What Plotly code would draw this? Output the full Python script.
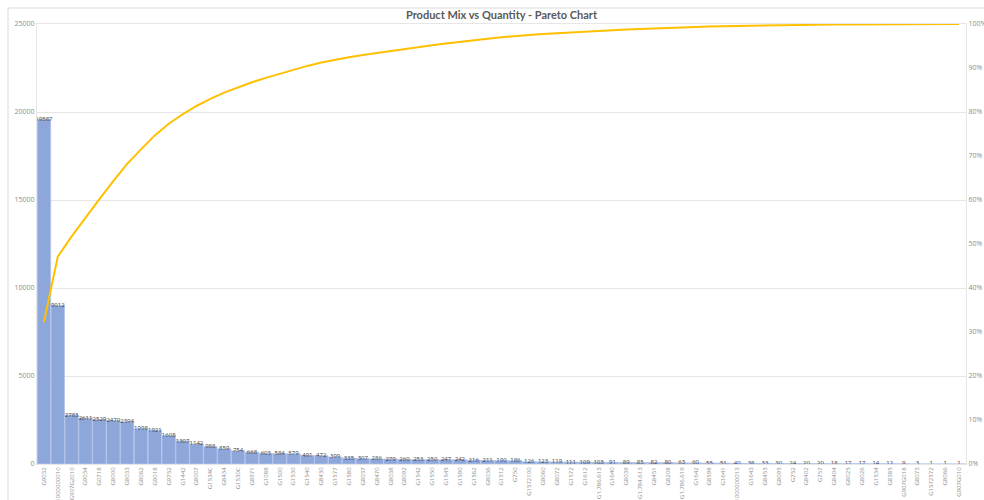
import plotly.graph_objects as go
import numpy as np

products = [
    "G9032", "8801000000010", "G907G2010", "G9034", "G0718", "G8000", "G8033", "G8062",
    "G9018", "G9752", "G1442", "G8007", "G1534C", "G8434", "G1530C", "G8971", "G1088",
    "G1500", "G1530", "G1540", "G8430", "G1577", "G1580", "G8037", "G8470", "G8038",
    "G8092", "G1542", "G1550", "G1545", "G1590", "G1562", "G8036", "G1512", "G750",
    "G1572100", "G8060", "G8072", "G1572", "G1612", "G1.786.613", "G1640", "G8039",
    "G1.784.613", "G8451", "G8208", "G1.786.619", "G1642", "G8598", "G1641",
    "8801000000013", "G1643", "G8453", "G8095", "G752", "G8402", "G757", "G8404",
    "G8025", "G8026", "G1534", "G8385", "G907G018", "G8073", "G1572572", "G8066",
    "G907G010",
]

quantity = [
    19587, 9012, 2783, 2611, 2529, 2470, 2394, 1998, 1921, 1608, 1307, 1142, 988, 859,
    754, 668, 603, 584, 579, 491, 472, 399, 335, 307, 286, 279, 260, 253, 250, 247, 242,
    216, 211, 190, 186, 126, 123, 119, 111, 109, 103, 91, 89, 85, 82, 80, 63, 60, 55, 51,
    40, 38, 33, 30, 24, 20, 20, 18, 17, 17, 14, 12, 9, 3, 1, 1, 1,
]

left_ticks = [0, 5000, 10000, 15000, 20000, 25000]
right_ticks = [0, 0.1, 0.2, 0.3, 0.4, 0.5, 0.6, 0.7, 0.8, 0.9, 1.0]

cum_share = np.cumsum(quantity) / np.sum(quantity)

FONT = "Open Sans"
GRID = "#E6E6E6"

fig = go.Figure()
fig.add_trace(go.Bar(
    x=products, y=quantity, name="Quantity",
    marker=dict(color="#8EA7DB", line=dict(color="#B4C4E8", width=0.8)),
    hoverinfo="x+y",
))
fig.add_trace(go.Scatter(
    x=products, y=quantity, mode="text", text=[str(v) for v in quantity],
    textposition="middle center",
    textfont=dict(family=FONT, size=6, color="#404040"),
    showlegend=False, hoverinfo="skip",
))
fig.add_trace(go.Scatter(
    x=products, y=cum_share, mode="lines", yaxis="y2", name="Cumulative %",
    line=dict(color="#FFC000", width=2),
))

fig.update_layout(
    width=984, height=500,
    margin=dict(l=37, r=18, t=24, b=36, autoexpand=False),
    paper_bgcolor="white", plot_bgcolor="white",
    showlegend=False,
    bargap=0.03,
    title=dict(
        text="<b>Product Mix vs Quantity - Pareto Chart</b>",
        x=0.5, xref="paper", xanchor="center", y=1 - 15 / 500, yanchor="middle",
        font=dict(family="Lato", size=11, color="#595959"),
    ),
    xaxis=dict(
        type="category", tickangle=-90, automargin=False,
        range=[-0.5, len(products) - 0.5],
        tickfont=dict(family=FONT, size=6, color="#8C8C8C"),
        showline=True, linecolor=GRID, mirror=True,
        ticks="", showgrid=False,
    ),
    yaxis=dict(
        range=[0, 25000], tickvals=left_ticks, tickformat="d", automargin=False,
        tickfont=dict(family=FONT, size=7, color="#8C8C8C"),
        showgrid=True, gridcolor=GRID, gridwidth=1,
        showline=True, linecolor=GRID, zeroline=False, ticks="",
    ),
    yaxis2=dict(
        range=[0, 1], tickvals=right_ticks, tickformat=".0%", automargin=False,
        overlaying="y", side="right",
        tickfont=dict(family=FONT, size=7, color="#8C8C8C"),
        showgrid=False, zeroline=False, showline=True, linecolor=GRID, ticks="",
    ),
    shapes=[dict(
        type="rect", xref="paper", yref="paper",
        x0=(8 - 37) / 929, x1=1.2, y0=-0.3, y1=(464 - 8) / 440,
        line=dict(color="#D9D9D9", width=1), fillcolor="rgba(0,0,0,0)", layer="below",
    )],
)

fig.write_html("out.html")
